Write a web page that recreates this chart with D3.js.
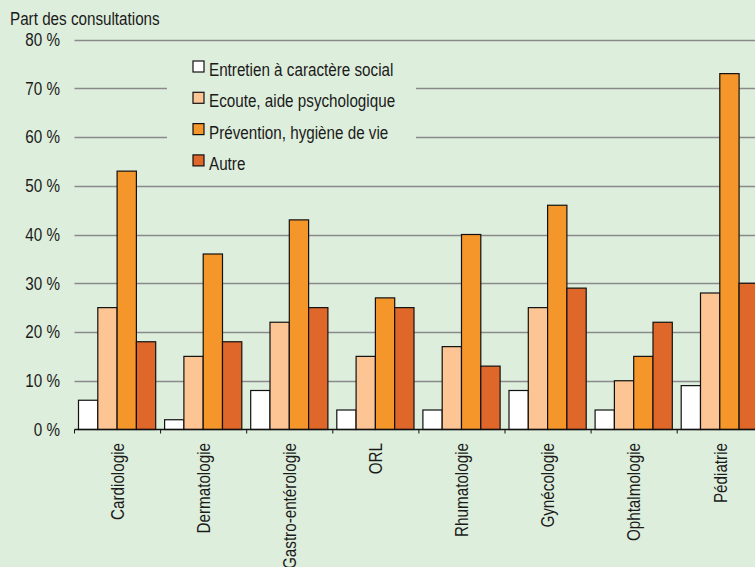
<!DOCTYPE html>
<html>
<head>
<meta charset="utf-8">
<script src="https://cdn.jsdelivr.net/npm/d3@7"></script>
<style>
  html, body { margin: 0; padding: 0; background: #deeedc; overflow: hidden; }
  text { font-family: "Liberation Sans", Arial, Helvetica, sans-serif; fill: #1a1a1a; }
</style>
</head>
<body>
<svg id="chart" width="755" height="567"></svg>
<script>
// Specialities (x categories)
const categories = ["Cardiologie", "Dermatologie", "Gastro-entérologie", "ORL",
  "Rhumatologie", "Gynécologie", "Ophtalmologie", "Pédiatrie"];

// Reasons for consultation (series)
const seriesNames = ["Entretien à caractère social", "Ecoute, aide psychologique",
  "Prévention, hygiène de vie", "Autre"];

// Share of consultations, in %, one array per series
const socialValues     = [6, 2, 8, 4, 4, 8, 4, 9];
const ecouteValues     = [25, 15, 22, 15, 17, 25, 10, 28];
const preventionValues = [53, 36, 43, 27, 40, 46, 15, 73];
const autreValues      = [18, 18, 25, 25, 13, 29, 22, 30];

const seriesValues = [socialValues, ecouteValues, preventionValues, autreValues];
const seriesColors = ["#ffffff", "#fdc494", "#f5962b", "#e0672a"];

const yTicks = [0, 10, 20, 30, 40, 50, 60, 70, 80];
const yTitle = "Part des consultations";

const BG = "#deeedc";
const SX = 0.87;          // horizontal text compression
const FS = 17.5;          // font size

const svg = d3.select("#chart");
svg.append("rect").attr("width", 755).attr("height", 567).attr("fill", BG);

const plotLeft = 74.5, bandW = 86.1, plotBottom = 429.5, plotTop = 39.5;

const x0 = d3.scaleBand().domain(categories)
  .range([plotLeft, plotLeft + bandW * categories.length]).padding(0);
const x1 = d3.scaleBand().domain(seriesNames).range([4, 81.2]).padding(0);
const y = d3.scaleLinear().domain([0, 80]).range([plotBottom, plotTop]);

// Horizontal grid lines
svg.append("g").selectAll("line").data(yTicks.filter(d => d > 0)).join("line")
  .attr("x1", plotLeft).attr("x2", 755)
  .attr("y1", d => Math.round(y(d)) + 0.5).attr("y2", d => Math.round(y(d)) + 0.5)
  .attr("stroke", "#8a8a8a").attr("stroke-width", 1.4);

// Y tick labels
svg.append("g").selectAll("text").data(yTicks).join("text")
  .attr("transform", d => `translate(60,${y(d)}) scale(${SX},1)`)
  .attr("dy", "0.36em")
  .attr("text-anchor", "end")
  .attr("font-size", FS)
  .text(d => d + " %");

// Axis title
svg.append("text")
  .attr("transform", `translate(10,25) scale(${SX},1)`)
  .attr("font-size", FS)
  .text(yTitle);

// Legend backdrop hides the grid behind it
svg.append("rect").attr("x", 167).attr("y", 48).attr("width", 249).attr("height", 128)
  .attr("fill", BG);

// Bars
const groups = svg.append("g").selectAll("g").data(categories).join("g")
  .attr("transform", c => `translate(${x0(c)},0)`);
groups.selectAll("rect")
  .data((c, i) => seriesNames.map((s, k) => ({ s, k, v: seriesValues[k][i] })))
  .join("rect")
  .attr("x", d => x1(d.s))
  .attr("width", x1.bandwidth())
  .attr("y", d => y(d.v))
  .attr("height", d => plotBottom - y(d.v))
  .attr("fill", d => seriesColors[d.k])
  .attr("stroke", "#111")
  .attr("stroke-width", 1.2);

// X axis line and boundary ticks
svg.append("line").attr("x1", plotLeft).attr("x2", 755)
  .attr("y1", plotBottom).attr("y2", plotBottom).attr("stroke", "#111").attr("stroke-width", 1.4);
const bounds = categories.map(c => x0(c));
svg.append("g").selectAll("line").data(bounds).join("line")
  .attr("x1", d => d).attr("x2", d => d)
  .attr("y1", plotBottom).attr("y2", plotBottom + 4)
  .attr("stroke", "#111").attr("stroke-width", 1);

// Category labels, vertical
svg.append("g").selectAll("text").data(categories).join("text")
  .attr("transform", c => `translate(${x0(c) + x0.bandwidth() / 2},443) rotate(-90) scale(${SX},1)`)
  .attr("dy", "0.36em")
  .attr("text-anchor", "end")
  .attr("font-size", FS)
  .text(c => c);

// Legend
const legend = svg.append("g");
const lg = legend.selectAll("g").data(seriesNames).join("g")
  .attr("transform", (d, i) => `translate(193,${61 + i * 31.3})`);
lg.append("rect").attr("width", 11).attr("height", 11)
  .attr("fill", (d, i) => seriesColors[i]).attr("stroke", "#111").attr("stroke-width", 1.2);
lg.append("text")
  .attr("transform", `translate(16,15) scale(${SX},1)`)
  .attr("font-size", FS)
  .text(d => d);
</script>
</body>
</html>
